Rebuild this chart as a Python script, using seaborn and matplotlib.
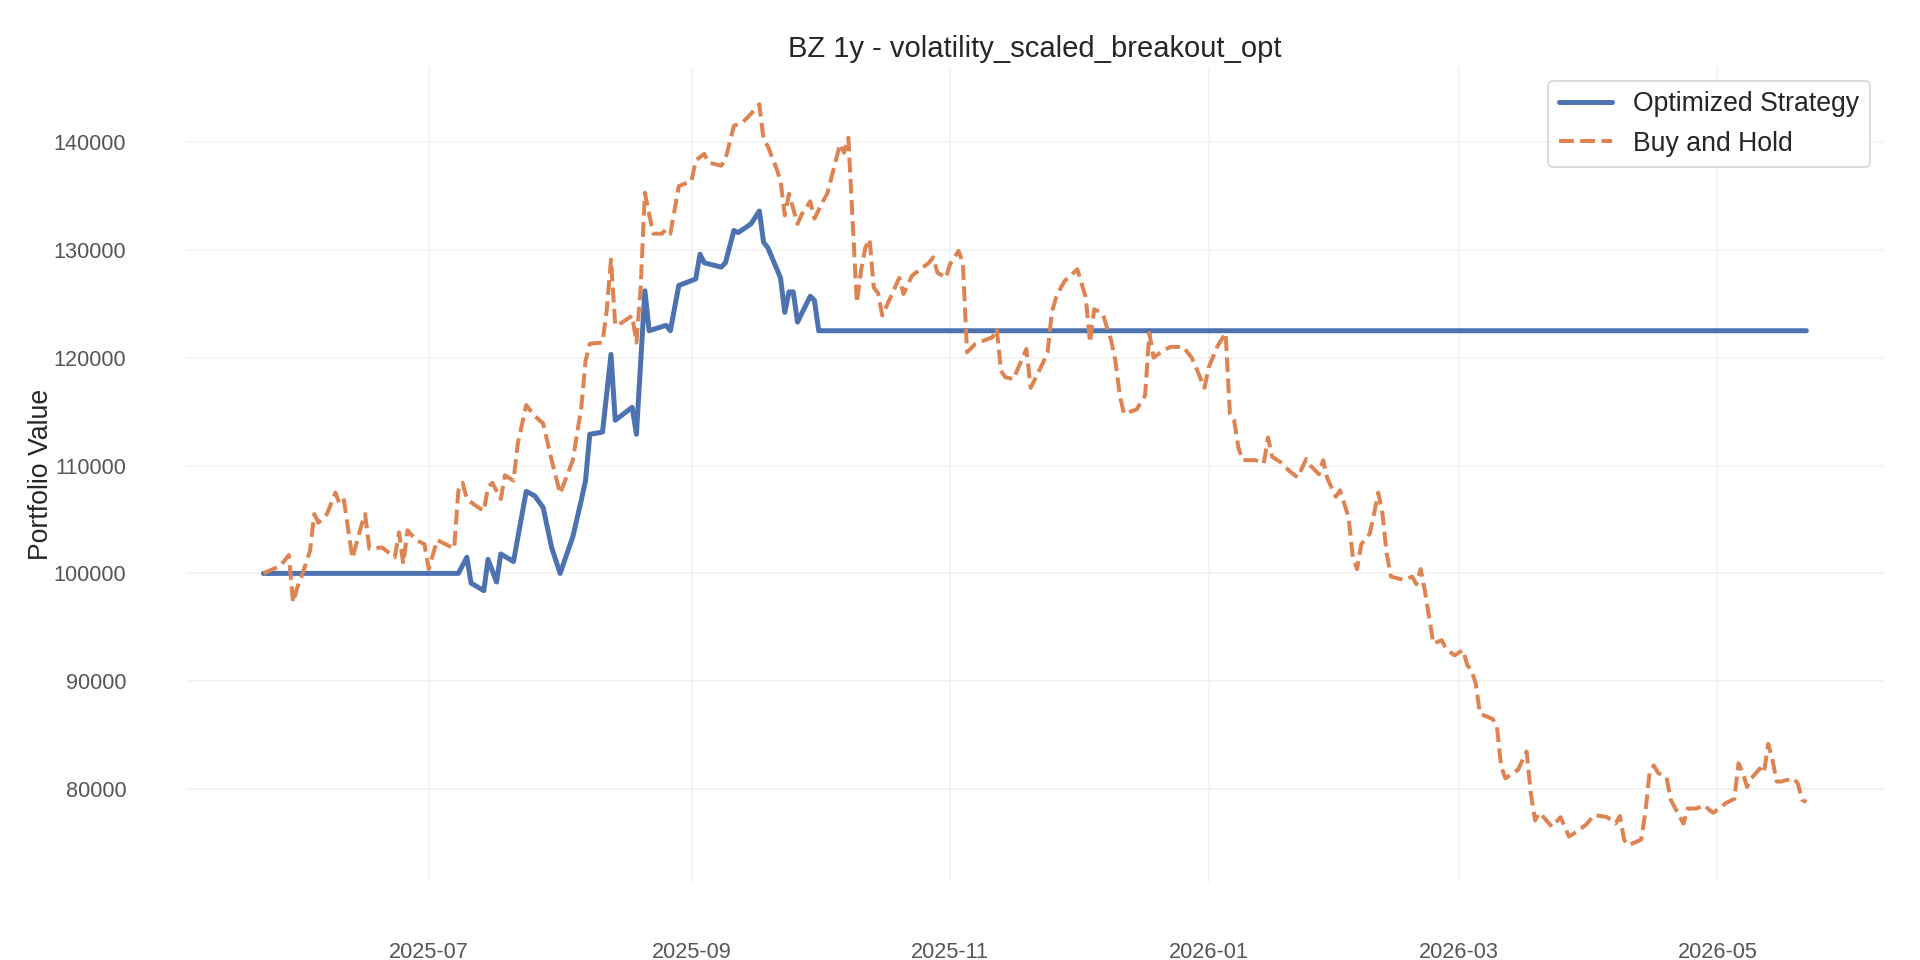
"""BZ 1y backtest: optimized strategy vs buy and hold."""
import matplotlib
matplotlib.use("Agg")
import matplotlib.dates as mdates
import matplotlib.pyplot as plt
import matplotlib.ticker as mticker
import pandas as pd
import seaborn as sns

TITLE = "BZ 1y - volatility_scaled_breakout_opt"
Y_LABEL = "Portfolio Value"
STRATEGY_LABEL = "Optimized Strategy"
BENCH_LABEL = "Buy and Hold"

# optimized strategy equity
STRATEGY_DATES = [
    "2025-05-23", "2025-07-08", "2025-07-10", "2025-07-11", "2025-07-14",
    "2025-07-15", "2025-07-17", "2025-07-18", "2025-07-21", "2025-07-24",
    "2025-07-26", "2025-07-28", "2025-07-30", "2025-08-01", "2025-08-04",
    "2025-08-06", "2025-08-07", "2025-08-08", "2025-08-11", "2025-08-13",
    "2025-08-14", "2025-08-18", "2025-08-19", "2025-08-21", "2025-08-22",
    "2025-08-26", "2025-08-27", "2025-08-29", "2025-09-02", "2025-09-03",
    "2025-09-04", "2025-09-08", "2025-09-09", "2025-09-11", "2025-09-12",
    "2025-09-15", "2025-09-17", "2025-09-18", "2025-09-19", "2025-09-22",
    "2025-09-23", "2025-09-24", "2025-09-25", "2025-09-26", "2025-09-29",
    "2025-09-30", "2025-10-01", "2026-05-22",
]
STRATEGY_VALUES = [
    100000, 100000, 101500, 99100, 98400,
    101300, 99200, 101800, 101100, 107600,
    107200, 106100, 102400, 100000, 103400,
    106800, 108600, 112900, 113100, 120300,
    114200, 115400, 112900, 126200, 122500,
    123000, 122500, 126700, 127300, 129600,
    128800, 128400, 128800, 131800, 131600,
    132400, 133600, 130700, 130200, 127400,
    124200, 126100, 126100, 123300, 125700,
    125300, 122500, 122500,
]

# buy and hold equity
BENCH_DATES = [
    "2025-05-23", "2025-05-27", "2025-05-29", "2025-05-30", "2025-05-31",
    "2025-06-01", "2025-06-03", "2025-06-04", "2025-06-05", "2025-06-07",
    "2025-06-09", "2025-06-10", "2025-06-11", "2025-06-13", "2025-06-15",
    "2025-06-16", "2025-06-17", "2025-06-20", "2025-06-23", "2025-06-24",
    "2025-06-25", "2025-06-26", "2025-06-28", "2025-06-30", "2025-07-01",
    "2025-07-03", "2025-07-05", "2025-07-07", "2025-07-08", "2025-07-09",
    "2025-07-10", "2025-07-12", "2025-07-14", "2025-07-15", "2025-07-16",
    "2025-07-18", "2025-07-19", "2025-07-21", "2025-07-22", "2025-07-24",
    "2025-07-26", "2025-07-28", "2025-07-30", "2025-08-01", "2025-08-04",
    "2025-08-06", "2025-08-07", "2025-08-08", "2025-08-11", "2025-08-12",
    "2025-08-13", "2025-08-14", "2025-08-15", "2025-08-18", "2025-08-19",
    "2025-08-20", "2025-08-21", "2025-08-22", "2025-08-23", "2025-08-25",
    "2025-08-26", "2025-08-27", "2025-08-29", "2025-09-01", "2025-09-02",
    "2025-09-04", "2025-09-05", "2025-09-08", "2025-09-09", "2025-09-11",
    "2025-09-13", "2025-09-15", "2025-09-17", "2025-09-18", "2025-09-19",
    "2025-09-21", "2025-09-22", "2025-09-23", "2025-09-24", "2025-09-26",
    "2025-09-27", "2025-09-29", "2025-09-30", "2025-10-02", "2025-10-03",
    "2025-10-05", "2025-10-06", "2025-10-07", "2025-10-08", "2025-10-10",
    "2025-10-11", "2025-10-12", "2025-10-13", "2025-10-14", "2025-10-15",
    "2025-10-16", "2025-10-20", "2025-10-21", "2025-10-23", "2025-10-27",
    "2025-10-28", "2025-10-29", "2025-10-31", "2025-11-01", "2025-11-03",
    "2025-11-04", "2025-11-05", "2025-11-07", "2025-11-11", "2025-11-12",
    "2025-11-13", "2025-11-14", "2025-11-16", "2025-11-17", "2025-11-19",
    "2025-11-20", "2025-11-21", "2025-11-23", "2025-11-24", "2025-11-25",
    "2025-11-26", "2025-11-27", "2025-11-28", "2025-12-01", "2025-12-03",
    "2025-12-04", "2025-12-05", "2025-12-07", "2025-12-08", "2025-12-09",
    "2025-12-10", "2025-12-11", "2025-12-12", "2025-12-15", "2025-12-17",
    "2025-12-18", "2025-12-19", "2025-12-21", "2025-12-23", "2025-12-26",
    "2025-12-28", "2025-12-29", "2025-12-31", "2026-01-01", "2026-01-03",
    "2026-01-05", "2026-01-06", "2026-01-07", "2026-01-08", "2026-01-09",
    "2026-01-12", "2026-01-14", "2026-01-15", "2026-01-16", "2026-01-18",
    "2026-01-20", "2026-01-22", "2026-01-24", "2026-01-25", "2026-01-27",
    "2026-01-28", "2026-01-29", "2026-01-31", "2026-02-01", "2026-02-03",
    "2026-02-04", "2026-02-05", "2026-02-06", "2026-02-08", "2026-02-09",
    "2026-02-10", "2026-02-11", "2026-02-12", "2026-02-13", "2026-02-16",
    "2026-02-18", "2026-02-19", "2026-02-20", "2026-02-21", "2026-02-23",
    "2026-02-25", "2026-02-26", "2026-02-28", "2026-03-02", "2026-03-03",
    "2026-03-04", "2026-03-05", "2026-03-06", "2026-03-09", "2026-03-10",
    "2026-03-11", "2026-03-12", "2026-03-15", "2026-03-17", "2026-03-18",
    "2026-03-19", "2026-03-20", "2026-03-21", "2026-03-23", "2026-03-25",
    "2026-03-27", "2026-03-29", "2026-03-31", "2026-04-02", "2026-04-05",
    "2026-04-07", "2026-04-08", "2026-04-09", "2026-04-10", "2026-04-13",
    "2026-04-14", "2026-04-15", "2026-04-16", "2026-04-17", "2026-04-19",
    "2026-04-20", "2026-04-23", "2026-04-24", "2026-04-26", "2026-04-28",
    "2026-04-29", "2026-04-30", "2026-05-02", "2026-05-03", "2026-05-05",
    "2026-05-06", "2026-05-07", "2026-05-08", "2026-05-09", "2026-05-11",
    "2026-05-12", "2026-05-13", "2026-05-14", "2026-05-15", "2026-05-16",
    "2026-05-19", "2026-05-20", "2026-05-21", "2026-05-22",
]
BENCH_VALUES = [
    100000, 100700, 101700, 97300, 98700,
    99700, 102100, 105500, 104700, 105500,
    107500, 106400, 106800, 101400, 104300,
    105500, 102300, 102400, 101500, 103800,
    100900, 104000, 103100, 102700, 100400,
    103100, 102700, 102300, 107700, 108400,
    106900, 106300, 105800, 108000, 108400,
    106900, 109100, 108600, 112000, 115600,
    114600, 113900, 110500, 107400, 110500,
    115400, 119700, 121300, 121400, 124400,
    129100, 123000, 123100, 123900, 121400,
    126500, 135300, 133300, 131500, 131500,
    131900, 131500, 135900, 136400, 138300,
    138900, 138100, 137800, 138400, 141500,
    141800, 142600, 143500, 140200, 139600,
    137600, 136400, 133200, 135200, 132400,
    133300, 134500, 132900, 134500, 135200,
    138200, 139800, 139000, 140400, 125100,
    128100, 130200, 131000, 126500, 126000,
    123900, 127400, 125900, 127600, 128800,
    129300, 127900, 127400, 128700, 129900,
    128800, 120500, 121300, 121900, 122700,
    118800, 118200, 118000, 119000, 120800,
    117200, 118000, 119600, 120500, 124200,
    125600, 126400, 127100, 128200, 125600,
    121400, 124500, 124100, 122800, 121600,
    119700, 116600, 114800, 115200, 116500,
    122300, 120000, 120600, 121000, 121000,
    120000, 119100, 117200, 119100, 121000,
    122300, 114800, 114200, 111700, 110500,
    110500, 110200, 112600, 110800, 110300,
    109500, 108900, 110600, 110000, 109200,
    110500, 108800, 107100, 107700, 105200,
    101500, 100400, 102700, 103700, 105500,
    107500, 105500, 101800, 99700, 99400,
    99700, 99000, 100400, 98400, 93500,
    93800, 93000, 92400, 92900, 91500,
    91000, 89800, 87000, 86500, 85800,
    82100, 81000, 81800, 83500, 79600,
    77100, 77800, 77400, 76500, 77400,
    75600, 76100, 76700, 77600, 77400,
    76800, 77500, 75300, 74800, 75300,
    77800, 81500, 82200, 81500, 81100,
    79000, 76800, 78200, 78200, 78500,
    78100, 77800, 78400, 78700, 79100,
    82400, 81500, 80200, 81000, 81900,
    81500, 84200, 82700, 80700, 80700,
    81000, 80500, 79000, 78800,
]

Y_TICKS = [80000, 90000, 100000, 110000, 120000, 130000, 140000]


def main():
    sns.set_theme(style="whitegrid")
    plt.rcParams["font.family"] = ["Liberation Sans", "DejaVu Sans"]

    strat = pd.DataFrame({"date": pd.to_datetime(STRATEGY_DATES), "value": STRATEGY_VALUES})
    bench = pd.DataFrame({"date": pd.to_datetime(BENCH_DATES), "value": BENCH_VALUES})
    palette = sns.color_palette("deep")

    fig, ax = plt.subplots(figsize=(16, 8), dpi=120)
    fig.subplots_adjust(left=0.097, right=0.981, top=0.93, bottom=0.081)

    sns.lineplot(data=strat, x="date", y="value", ax=ax, color=palette[0],
                 linewidth=3.0, label=STRATEGY_LABEL)
    sns.lineplot(data=bench, x="date", y="value", ax=ax, color=palette[1],
                 linewidth=2.4, linestyle="--", label=BENCH_LABEL)

    ax.set_title(TITLE, fontsize=17.5, color="#262626")
    ax.set_xlabel("")
    ax.set_ylabel(Y_LABEL, fontsize=16, color="#262626", labelpad=0)

    ax.xaxis.set_major_locator(mdates.MonthLocator(bymonth=[1, 3, 5, 7, 9, 11]))
    ax.xaxis.set_major_formatter(mdates.DateFormatter("%Y-%m"))
    ax.set_yticks(Y_TICKS)
    ax.yaxis.set_major_formatter(mticker.StrMethodFormatter("{x:.0f}"))
    ax.tick_params(axis="both", length=0, pad=36, labelsize=13, labelcolor="#555555")

    ax.grid(True, color="#cccccc", alpha=0.25, linewidth=1)
    sns.despine(ax=ax, left=True, bottom=True)

    ax.legend(loc="upper right", fontsize=16, frameon=True)

    fig.savefig("out.png", dpi=120)
    plt.close(fig)


if __name__ == "__main__":
    main()
